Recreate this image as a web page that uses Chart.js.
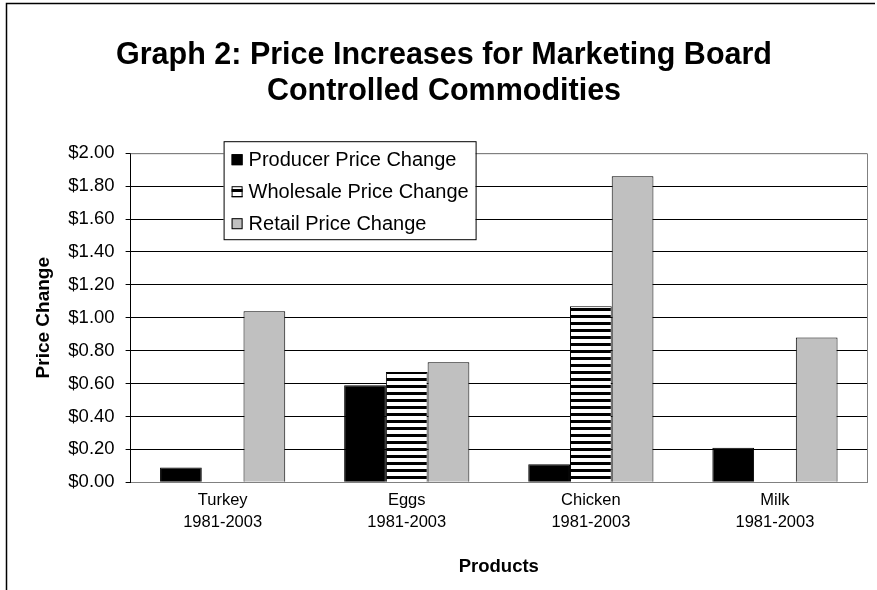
<!DOCTYPE html>
<html>
<head>
<meta charset="utf-8">
<script src="https://cdn.jsdelivr.net/npm/chart.js@4"></script>
<style>
  html, body { margin: 0; padding: 0; background: #fff; }
  #wrap { width: 877px; height: 590px; position: relative; }
</style>
</head>
<body>
<div id="wrap"><canvas id="myChart"></canvas></div>
<script>
const categories = [
    ['Turkey', '1981-2003'],
    ['Eggs', '1981-2003'],
    ['Chicken', '1981-2003'],
    ['Milk', '1981-2003']
];
const producerChange = [0.09, 0.59, 0.11, 0.21];
const wholesaleChange = [null, 0.67, 1.07, null];
const retailChange = [1.04, 0.73, 1.86, 0.88];
const seriesNames = ['Producer Price Change', 'Wholesale Price Change', 'Retail Price Change'];

const FONT = '"Liberation Sans", Arial, sans-serif';

/**
 * Horizontal black/white stripes for the wholesale bars.
 */
function stripePattern() {
    const c = document.createElement('canvas');
    c.width = 7;
    c.height = 7;
    const g = c.getContext('2d');
    g.fillStyle = '#fff';
    g.fillRect(0, 0, 7, 7);
    g.fillStyle = '#000';
    g.fillRect(0, 0, 7, 3);
    return g.createPattern(c, 'repeat');
}

// outer frame + grey top/right edge of the plot area
const framePlugin = {
    id: 'frame',
    beforeDatasetsDraw(chart) {
        const {ctx, chartArea} = chart;
        ctx.save();
        ctx.strokeStyle = '#808080';
        ctx.lineWidth = 1;
        ctx.beginPath();
        ctx.moveTo(chartArea.left, chartArea.top + 0.5);
        ctx.lineTo(chartArea.right + 0.5, chartArea.top + 0.5);
        ctx.lineTo(chartArea.right + 0.5, chartArea.bottom);
        ctx.stroke();
        ctx.restore();
    },
    afterDraw(chart) {
        const ctx = chart.ctx;
        ctx.save();
        ctx.strokeStyle = '#000';
        ctx.lineWidth = 1.5;
        ctx.beginPath();
        ctx.moveTo(875, 3.5);
        ctx.lineTo(6.5, 3.5);
        ctx.lineTo(6.5, 590);
        ctx.stroke();
        ctx.restore();
    }
};

// boxed legend sitting on top of the plot
const boxLegend = {
    id: 'boxLegend',
    afterDraw(chart) {
        const {ctx, chartArea} = chart;
        const x = chartArea.left + 93;
        const y = chartArea.top - 12;
        const w = 252, h = 98;
        ctx.save();
        ctx.fillStyle = '#fff';
        ctx.fillRect(x, y, w, h);
        ctx.strokeStyle = '#000';
        ctx.lineWidth = 1;
        ctx.strokeRect(x + 0.5, y + 0.5, w, h);
        ctx.font = '20px ' + FONT;
        ctx.textBaseline = 'middle';
        chart.data.datasets.forEach((ds, i) => {
            const cy = y + 18 + i * 32;
            ctx.fillStyle = ds.backgroundColor;
            ctx.fillRect(x + 8, cy - 5, 11, 11);
            ctx.strokeStyle = '#000';
            ctx.strokeRect(x + 8.5, cy - 4.5, 10, 10);
            ctx.fillStyle = '#000';
            ctx.fillText(ds.label, x + 25, cy + 1);
        });
        ctx.restore();
    }
};

function initChart() {
    const ctx = document.getElementById('myChart').getContext('2d');
    const stripes = stripePattern();
    new Chart(ctx, {
        type: 'bar',
        data: {
            labels: categories,
            datasets: [{
                label: seriesNames[0],
                data: producerChange,
                backgroundColor: '#000',
                borderColor: '#000',
                borderWidth: 1
            }, {
                label: seriesNames[1],
                data: wholesaleChange,
                backgroundColor: stripes,
                borderColor: '#000',
                borderWidth: 1
            }, {
                label: seriesNames[2],
                data: retailChange,
                backgroundColor: '#c0c0c0',
                borderColor: '#000',
                borderWidth: 1
            }]
        },
        options: {
            responsive: true,
            maintainAspectRatio: false,
            animation: false,
            layout: {
                padding: { left: 21, right: 10, top: 0, bottom: 0 }
            },
            datasets: {
                bar: {
                    categoryPercentage: 0.68,
                    barPercentage: 1.0
                }
            },
            plugins: {
                legend: { display: false },
                tooltip: { enabled: false },
                title: {
                    display: true,
                    text: ['Graph 2: Price Increases for Marketing Board', 'Controlled Commodities'],
                    color: '#000',
                    font: { family: FONT, size: 30.5, weight: 'bold', lineHeight: 1.2 },
                    padding: { top: 37, bottom: 43 }
                }
            },
            scales: {
                x: {
                    grid: { display: false, drawTicks: false },
                    border: { color: '#808080', width: 1 },
                    ticks: {
                        color: '#000',
                        padding: 7,
                        maxRotation: 0,
                        font: { family: FONT, size: 16.5, lineHeight: 1.35 }
                    },
                    title: {
                        display: true,
                        text: 'Products',
                        color: '#000',
                        font: { family: FONT, size: 18.5, weight: 'bold', lineHeight: 1.2 },
                        padding: { top: 15, bottom: 12 }
                    }
                },
                y: {
                    min: 0,
                    max: 2,
                    ticks: {
                        stepSize: 0.2,
                        color: '#000',
                        padding: 11,
                        font: { family: FONT, size: 18.5 },
                        callback: v => '$' + v.toFixed(2)
                    },
                    grid: {
                        color: c => (c.tick && (c.tick.value === 0 || c.tick.value >= 1.99)) ? '#808080' : '#000',
                        tickColor: '#000',
                        tickLength: 5,
                        lineWidth: 1
                    },
                    border: { color: '#000', width: 1 },
                    title: {
                        display: true,
                        text: 'Price Change',
                        color: '#000',
                        font: { family: FONT, size: 19, weight: 'bold', lineHeight: 1.2 },
                        padding: { top: 11.5, bottom: 2 }
                    }
                }
            }
        },
        plugins: [framePlugin, boxLegend]
    });
}

initChart();
</script>
</body>
</html>
